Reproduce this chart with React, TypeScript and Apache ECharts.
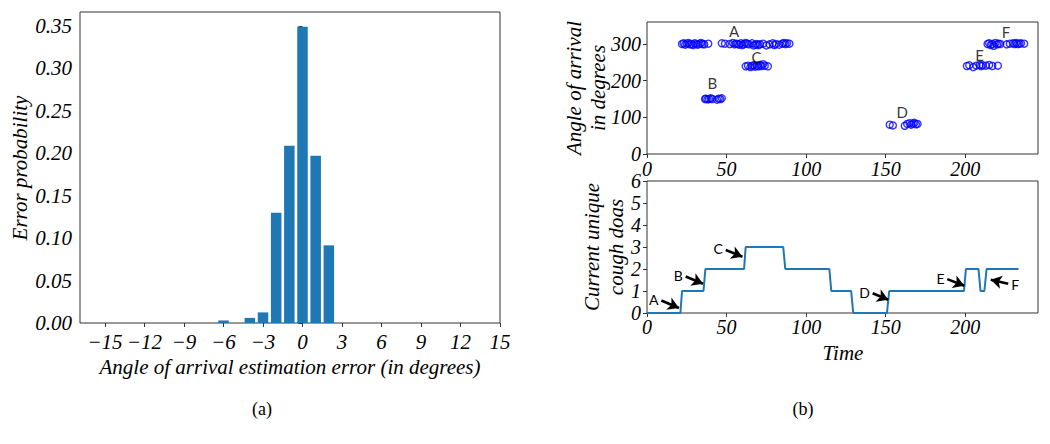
import React, { useEffect, useRef } from "react";
import * as echarts from "echarts";

// ---------- (a) error histogram ----------
const errAngles = [-6, -4, -3, -2, -1, 0, 1, 2];
const errProb = [0.003, 0.006, 0.0125, 0.13, 0.209, 0.349, 0.197, 0.0915];
const errTicks = [-15, -12, -9, -6, -3, 0, 3, 6, 9, 12, 15];
const probTicks = [0, 0.05, 0.1, 0.15, 0.2, 0.25, 0.3, 0.35];

// ---------- (b) top: angle of arrival scatter ----------
const aoaTime = [
  // A (early)
  22, 23, 24, 25, 26, 27, 28, 29, 30, 31, 32, 33, 34, 35, 36, 38.5,
  // B
  36.5, 37, 38, 39, 40, 41, 44, 45, 46, 47,
  // A (later)
  47, 49, 52, 54, 55, 56, 57, 58, 59, 60, 61, 62, 63, 64, 66, 67, 68, 69, 70, 71, 73, 75, 77, 79, 80, 81, 83, 85, 86, 87, 88, 89.5,
  // C
  62, 63.5, 65, 66, 67, 68, 69, 70, 71, 72, 73, 74, 76,
  // D
  152.5, 154.5, 162, 163.5, 165, 166, 167, 168, 169, 170,
  // E
  201, 202.5, 205, 207, 209, 210, 211, 213, 215, 217, 220.5,
  // F
  214, 215, 216, 217, 218, 219, 220, 221, 222, 226, 228, 230, 231, 232, 233, 234, 235, 237,
];
const aoaAngle = [
  300, 302, 298, 301, 303, 299, 300, 297, 302, 300, 298, 301, 303, 300, 299, 301,
  150, 151, 149, 150, 152, 150, 148, 151, 150, 152,
  302, 301, 300, 303, 299, 301, 300, 298, 302, 297, 300, 303, 301, 299, 302, 296, 298, 300, 297, 299, 301, 296, 299, 302, 297, 300, 298, 301, 303, 300, 302, 301,
  239, 241, 237, 240, 242, 238, 241, 239, 243, 240, 245, 241, 239,
  80, 78, 77, 82, 84, 80, 83, 85, 81, 82,
  240, 242, 237, 241, 243, 240, 242, 241, 243, 240, 241,
  300, 302, 297, 300, 295, 303, 299, 301, 300, 299, 301, 302, 300, 303, 300, 301, 302, 301,
];
const aoaLetters = ["A", "B", "C", "D", "E", "F"];
const aoaLetterTime = [54.7, 41.1, 68.8, 160.4, 209, 225.6];
const aoaLetterAngle = [335, 193, 265, 115, 270, 333];
const aoaTicksY = [0, 100, 200, 300];
const timeTicks = [0, 50, 100, 150, 200];

// ---------- (b) bottom: current unique cough doas ----------
const stepTime = [0, 21, 22, 35.5, 36.7, 61, 62, 85.6, 86.9, 114.6, 115.8, 128.3, 129.6, 150.8, 152.2, 199.2, 200.4, 208.3, 209.6, 212, 213.4, 233.5];
const stepCount = [0, 0, 1, 1, 2, 2, 3, 3, 2, 2, 1, 1, 0, 0, 1, 1, 2, 2, 1, 1, 2, 2];
const countTicks = [0, 1, 2, 3, 4, 5, 6];
const arrowLetters = ["A", "B", "C", "D", "E", "F"];
const arrowFromT = [9, 24.3, 49.5, 141.8, 188.7, 227];
const arrowFromV = [0.57, 1.66, 2.86, 0.9, 1.54, 1.33];
const arrowToT = [20.1, 35.2, 60, 151.6, 199.4, 216];
const arrowToV = [0.23, 1.33, 2.56, 0.6, 1.24, 1.51];

const SERIF = "'Liberation Serif', 'DejaVu Serif', serif";
const SANS = "Lato, 'Open Sans', sans-serif";
const AXIS_COLOR = "#333";

const minusFmt = (v: number) => (v < 0 ? "\u2212" + Math.abs(v) : String(v));

export default function App() {
  const ref = useRef<HTMLDivElement>(null);

  useEffect(() => {
    if (!ref.current) return;
    const chart = echarts.init(ref.current, undefined, { renderer: "svg" });

    const tickLabel = (size: number) => ({
      fontFamily: SERIF,
      fontStyle: "italic" as const,
      fontSize: size,
      color: "#000",
    });

    const option: any = {
      animation: false,
      backgroundColor: "#fff",
      grid: [
        { left: 80, top: 12, width: 420, height: 311, show: true, borderColor: AXIS_COLOR, borderWidth: 1, backgroundColor: "transparent" },
        { left: 647, top: 22, width: 391, height: 132, show: true, borderColor: AXIS_COLOR, borderWidth: 1, backgroundColor: "transparent" },
        { left: 647, top: 181, width: 391, height: 132, show: true, borderColor: AXIS_COLOR, borderWidth: 1, backgroundColor: "transparent" },
      ],
      xAxis: [
        {
          type: "value", gridIndex: 0, min: -16.9, max: 15,
          axisLine: { show: false },
          splitLine: { show: false },
          axisTick: { show: true, length: 4, lineStyle: { color: AXIS_COLOR }, customValues: errTicks },
          axisLabel: { ...tickLabel(21), margin: 8, customValues: errTicks, formatter: minusFmt, hideOverlap: false },
        },
        {
          type: "value", gridIndex: 1, min: 0, max: 245.7,
          axisLine: { show: false },
          splitLine: { show: false },
          axisTick: { show: true, length: 4, lineStyle: { color: AXIS_COLOR }, customValues: timeTicks },
          axisLabel: { ...tickLabel(20), margin: 5, customValues: timeTicks, hideOverlap: false },
        },
        {
          type: "value", gridIndex: 2, min: 0, max: 245.7,
          axisLine: { show: false },
          splitLine: { show: false },
          axisTick: { show: true, length: 4, lineStyle: { color: AXIS_COLOR }, customValues: timeTicks },
          axisLabel: { ...tickLabel(20), margin: 4, customValues: timeTicks, hideOverlap: false },
        },
      ],
      yAxis: [
        {
          type: "value", gridIndex: 0, min: 0, max: 0.3665,
          axisLine: { show: false },
          splitLine: { show: false },
          axisTick: { show: true, length: 4, lineStyle: { color: AXIS_COLOR }, customValues: probTicks },
          axisLabel: { ...tickLabel(21), margin: 8, customValues: probTicks, formatter: (v: number) => v.toFixed(2), hideOverlap: false },
        },
        {
          type: "value", gridIndex: 1, min: 0, max: 360,
          axisLine: { show: false },
          splitLine: { show: false },
          axisTick: { show: true, length: 4, lineStyle: { color: AXIS_COLOR }, customValues: aoaTicksY },
          axisLabel: { ...tickLabel(20), margin: 6, customValues: aoaTicksY, hideOverlap: false },
        },
        {
          type: "value", gridIndex: 2, min: 0, max: 6,
          axisLine: { show: false },
          splitLine: { show: false },
          axisTick: { show: true, length: 4, lineStyle: { color: AXIS_COLOR }, customValues: countTicks },
          axisLabel: { ...tickLabel(20), margin: 6, customValues: countTicks, hideOverlap: false },
        },
      ],
      series: [
        {
          type: "bar",
          xAxisIndex: 0, yAxisIndex: 0,
          barWidth: 10.5,
          itemStyle: { color: "#1f77b4" },
          data: errAngles.map((a, i) => [a, errProb[i]]),
        },
        {
          type: "scatter",
          xAxisIndex: 1, yAxisIndex: 1,
          symbol: "circle",
          symbolSize: 7,
          itemStyle: { color: "rgba(0,0,0,0)", borderColor: "#0000ff", borderWidth: 1.4 },
          data: aoaTime.map((t, i) => [t, aoaAngle[i]]),
          silent: true,
        },
        {
          type: "scatter",
          xAxisIndex: 1, yAxisIndex: 1,
          symbolSize: 0,
          silent: true,
          label: {
            show: true,
            position: "inside",
            formatter: (p: any) => p.data[2],
            fontFamily: SANS,
            fontSize: 15,
            color: "#000",
          },
          data: aoaLetters.map((l, i) => [aoaLetterTime[i], aoaLetterAngle[i], l]),
        },
        {
          type: "line",
          xAxisIndex: 2, yAxisIndex: 2,
          showSymbol: false,
          symbol: "none",
          lineStyle: { color: "#1f77b4", width: 2 },
          data: stepTime.map((t, i) => [t, stepCount[i]]),
          markLine: {
            silent: true,
            symbol: ["none", "arrow"],
            symbolSize: [10, 11],
            lineStyle: { color: "#000", width: 2.6, type: "solid" },
            label: {
              show: true,
              position: "start",
              distance: 3,
              fontFamily: SANS,
              fontSize: 14,
              color: "#000",
            },
            data: arrowLetters.map((l, i) => [
              { coord: [arrowFromT[i], arrowFromV[i]], label: { formatter: l } },
              { coord: [arrowToT[i], arrowToV[i]] },
            ]),
          },
        },
      ],
      graphic: [
        {
          type: "text", x: 20, y: 168, rotation: Math.PI / 2,
          style: { text: "Error probability", font: `italic 21px ${SERIF}`, fill: "#000", align: "center", verticalAlign: "middle" },
        },
        {
          type: "text", x: 290, y: 367,
          style: { text: "Angle of arrival estimation error (in degrees)", font: `italic 21px ${SERIF}`, fill: "#000", align: "center", verticalAlign: "middle" },
        },
        {
          type: "text", x: 262, y: 409,
          style: { text: "(a)", font: `18px ${SERIF}`, fill: "#000", align: "center", verticalAlign: "middle" },
        },
        {
          type: "text", x: 803, y: 409,
          style: { text: "(b)", font: `18px ${SERIF}`, fill: "#000", align: "center", verticalAlign: "middle" },
        },
        {
          type: "text", x: 574, y: 88, rotation: Math.PI / 2,
          style: { text: "Angle of arrival", font: `italic 21px ${SERIF}`, fill: "#000", align: "center", verticalAlign: "middle" },
        },
        {
          type: "text", x: 598, y: 88, rotation: Math.PI / 2,
          style: { text: "in degrees", font: `italic 21px ${SERIF}`, fill: "#000", align: "center", verticalAlign: "middle" },
        },
        {
          type: "text", x: 592, y: 247, rotation: Math.PI / 2,
          style: { text: "Current unique", font: `italic 21px ${SERIF}`, fill: "#000", align: "center", verticalAlign: "middle" },
        },
        {
          type: "text", x: 616, y: 247, rotation: Math.PI / 2,
          style: { text: "cough doas", font: `italic 21px ${SERIF}`, fill: "#000", align: "center", verticalAlign: "middle" },
        },
        {
          type: "text", x: 843, y: 353,
          style: { text: "Time", font: `italic 21px ${SERIF}`, fill: "#000", align: "center", verticalAlign: "middle" },
        },
      ],
    };

    chart.setOption(option);
    return () => chart.dispose();
  }, []);

  return (
    <div
      ref={ref}
      style={{ position: "fixed", left: 0, top: 0, width: 1050, height: 444, background: "#fff" }}
    />
  );
}
